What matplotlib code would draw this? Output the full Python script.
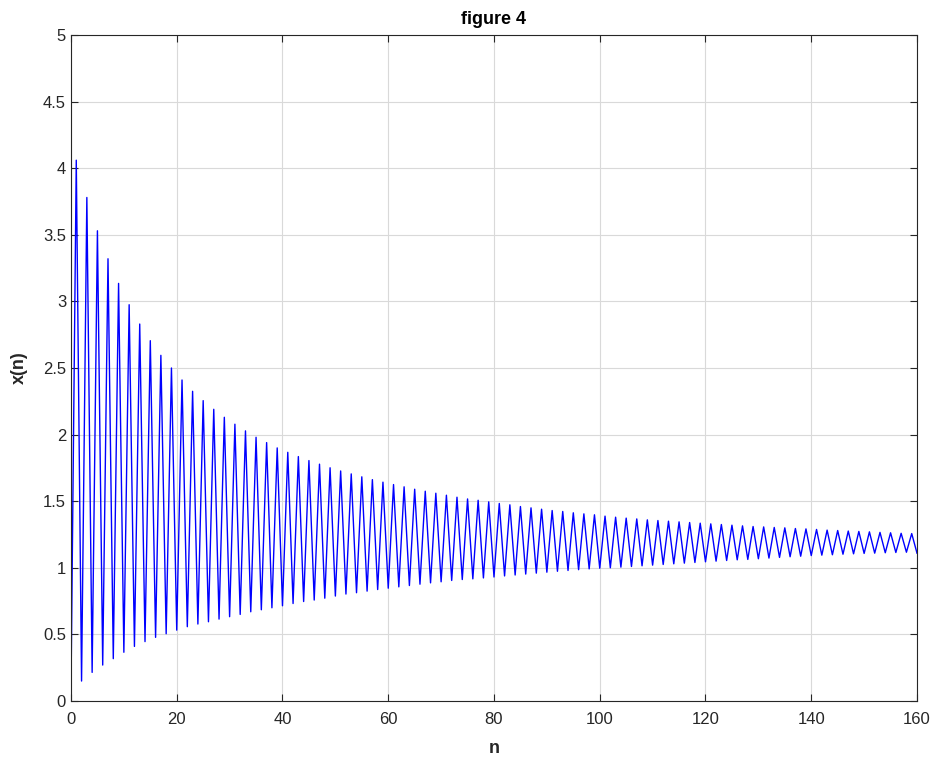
import numpy as np
import matplotlib
matplotlib.use("Agg")
import matplotlib.pyplot as plt
from matplotlib.ticker import FuncFormatter

# values (odd n = peaks, even n = troughs)
x_start = 0.08
peaks = [4.06, 3.78, 3.53, 3.32, 3.135, 2.975, 2.83, 2.705, 2.595, 2.50,
         2.41, 2.325, 2.255, 2.19, 2.13, 2.078, 2.028, 1.98, 1.94, 1.90,
         1.867, 1.835, 1.805, 1.778, 1.751, 1.727, 1.705, 1.683, 1.662, 1.643,
         1.625, 1.608, 1.59, 1.575, 1.56, 1.545, 1.53, 1.517, 1.507, 1.495,
         1.483, 1.473, 1.46, 1.45, 1.44, 1.43, 1.423, 1.413, 1.405, 1.398,
         1.388, 1.38, 1.373, 1.367, 1.36, 1.355, 1.35, 1.345, 1.34, 1.335,
         1.33, 1.325, 1.32, 1.315, 1.31, 1.307, 1.303, 1.30, 1.295, 1.292,
         1.288, 1.283, 1.28, 1.276, 1.273, 1.27, 1.266, 1.263, 1.259, 1.257]
troughs = [0.15, 0.215, 0.27, 0.318, 0.366, 0.41, 0.446, 0.478, 0.505, 0.532,
           0.558, 0.578, 0.595, 0.615, 0.633, 0.65, 0.67, 0.685, 0.70, 0.715,
           0.732, 0.747, 0.758, 0.772, 0.788, 0.803, 0.813, 0.825, 0.837, 0.847,
           0.857, 0.867, 0.877, 0.887, 0.895, 0.905, 0.912, 0.917, 0.924, 0.931,
           0.939, 0.946, 0.953, 0.96, 0.967, 0.974, 0.98, 0.986, 0.992, 0.997,
           1.0, 1.005, 1.01, 1.015, 1.02, 1.025, 1.03, 1.035, 1.04, 1.045,
           1.05, 1.055, 1.06, 1.063, 1.068, 1.073, 1.078, 1.083, 1.087, 1.092,
           1.095, 1.098, 1.102, 1.105, 1.108, 1.11, 1.113, 1.115, 1.117, 1.11]

xs = [x_start]
for p, t in zip(peaks, troughs):
    xs.append(p)
    xs.append(t)
n = np.arange(len(xs))

plt.rcParams['font.family'] = ['Liberation Sans', 'DejaVu Sans']

fig = plt.figure(figsize=(9.34, 7.6), dpi=100)
ax = fig.add_axes([0.076, 0.0776, 0.9058, 0.8764])

ax.plot(n, xs, color=(0, 0, 1), linewidth=1.0)

ax.set_xlim(0, 160)
ax.set_ylim(0, 5)
ax.set_xticks(np.arange(0, 161, 20))
ax.set_yticks(np.arange(0, 5.01, 0.5))
ax.yaxis.set_major_formatter(FuncFormatter(lambda v, p: ('%g' % v)))

ax.grid(True, color='#d9d9d9', linewidth=0.8)
ax.set_axisbelow(True)
ax.tick_params(direction='in', length=5, labelsize=12, colors='#262626',
               top=True, right=True, labeltop=False, labelright=False)
ax.tick_params(axis='x', pad=8)
for s in ax.spines.values():
    s.set_color('#262626')
    s.set_linewidth(0.8)

ax.set_xlabel('n', fontsize=13, fontweight='bold', color='#262626', labelpad=9)
ax.set_ylabel('x(n)', fontsize=13, fontweight='bold', color='#262626', labelpad=11)
ax.set_title('figure 4', fontsize=13, fontweight='bold', color='black', pad=8)

fig.savefig('out.png', dpi=100, facecolor='white')
